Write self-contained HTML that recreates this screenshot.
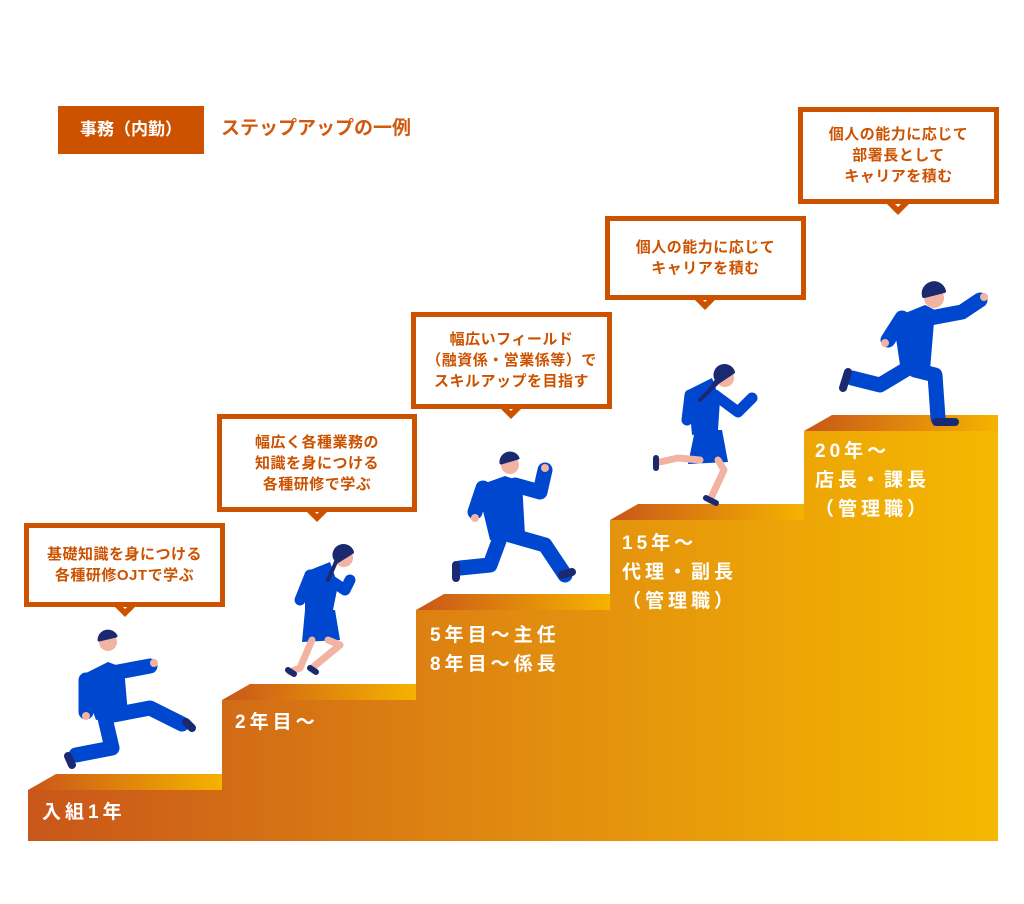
<!DOCTYPE html>
<html><head><meta charset="utf-8"><style>
html,body{margin:0;padding:0;background:#fff}
body{width:1024px;height:904px;position:relative;overflow:hidden;font-family:"Liberation Sans","Noto Sans CJK JP",sans-serif}
.bub{position:absolute;box-sizing:border-box;border:5px solid #cc5200;background:#fff;color:#cc5200;font-weight:bold;font-size:15px;line-height:21px;text-align:center;display:flex;align-items:center;justify-content:center;letter-spacing:0.5px}
.lab{position:absolute;color:#fff;font-weight:bold;font-size:19px;line-height:29px;letter-spacing:4px}
</style></head><body>
<svg width="1024" height="904" style="position:absolute;left:0;top:0">
<defs>
<linearGradient id="g" x1="28" y1="0" x2="998" y2="0" gradientUnits="userSpaceOnUse">
<stop offset="0" stop-color="#c9561a"/><stop offset="0.5" stop-color="#e08a10"/><stop offset="1" stop-color="#f5b800"/></linearGradient>
<linearGradient id="t" x1="0" y1="0" x2="1" y2="0">
<stop offset="0" stop-color="#c9561a"/><stop offset="1" stop-color="#f5b300"/></linearGradient>
<polygon id="tail" points="-15,0 15,0 0,15"/>
</defs>
<polygon fill="url(#g)" points="28,790 222,790 222,700 416,700 416,610 610,610 610,520 804,520 804,431 998,431 998,841 28,841"/>
<polygon fill="url(#t)" points="28,790 56,774 222,774 222,790"/>
<polygon fill="url(#t)" points="222,700 250,684 416,684 416,700"/>
<polygon fill="url(#t)" points="416,610 444,594 610,594 610,610"/>
<polygon fill="url(#t)" points="610,520 638,504 804,504 804,520"/>
<polygon fill="url(#t)" points="804,431 832,415 998,415 998,431"/>
<g stroke-linecap="round" stroke-linejoin="round" fill="none">
<g stroke="#0047d0" stroke-width="15">
<path d="M105,718 L112,748 L76,755"/><path d="M108,716 L150,708 L182,724"/>
<path d="M86,680 L86,712"/><path d="M118,672 L150,666"/></g>
<polygon fill="#0047d0" points="80,676 108,662 124,668 128,714 96,720"/>
<circle cx="108" cy="642" r="9" fill="#f2b3a3"/><path d="M99,640 a9,9 0 0 1 17,-4 z" fill="#1b2a70" stroke="#1b2a70" stroke-width="3"/>
<path d="M68,756 L72,765 M186,722 L192,728" stroke="#1b2a70" stroke-width="8"/>
<circle cx="154" cy="663" r="4" fill="#f2b3a3"/><circle cx="86" cy="716" r="4" fill="#f2b3a3"/>
<g stroke="#0047d0" stroke-width="11"><path d="M310,575 L300,600"/><path d="M330,580 L345,590 L350,580"/></g>
<polygon fill="#0047d0" points="305,572 330,562 338,585 332,615 305,620"/>
<polygon fill="#0047d0" points="305,610 335,610 340,640 302,642"/>
<g stroke="#f2b3a3" stroke-width="7"><path d="M312,640 L300,668 L290,672"/><path d="M328,640 L340,645 L312,668"/></g>
<circle cx="344" cy="558" r="9" fill="#f2b3a3"/><path d="M335,558 a9,9 0 0 1 17,-6 L336,562 L328,580" fill="#1b2a70" stroke="#1b2a70" stroke-width="4"/>
<path d="M288,670 L294,674 M310,668 L316,672" stroke="#1b2a70" stroke-width="6"/>
<g stroke="#0047d0" stroke-width="15">
<path d="M500,538 L490,565 L460,568"/><path d="M510,535 L545,545 L565,575"/>
<path d="M483,488 L475,512"/><path d="M515,485 L540,492 L545,470"/></g>
<polygon fill="#0047d0" points="477,486 505,476 522,482 525,535 490,540"/>
<circle cx="510" cy="465" r="9" fill="#f2b3a3"/><path d="M501,463 a9,9 0 0 1 17,-5 z" fill="#1b2a70" stroke="#1b2a70" stroke-width="3"/>
<path d="M456,565 L456,578 M562,575 L572,572" stroke="#1b2a70" stroke-width="8"/>
<circle cx="545" cy="468" r="4" fill="#f2b3a3"/><circle cx="475" cy="518" r="4" fill="#f2b3a3"/>
<g stroke="#0047d0" stroke-width="11"><path d="M690,395 L687,420"/><path d="M715,395 L738,412 L752,398"/></g>
<polygon fill="#0047d0" points="688,390 712,378 720,400 718,430 692,435"/>
<polygon fill="#0047d0" points="695,430 722,430 728,462 688,464"/>
<g stroke="#f2b3a3" stroke-width="7"><path d="M700,460 L678,458 L660,462"/><path d="M718,460 L724,470 L710,500"/></g>
<circle cx="725" cy="378" r="9" fill="#f2b3a3"/><path d="M716,378 a9,9 0 0 1 17,-6 L718,382 L700,400" fill="#1b2a70" stroke="#1b2a70" stroke-width="4"/>
<path d="M656,458 L656,468 M706,498 L716,503" stroke="#1b2a70" stroke-width="6"/>
<g stroke="#0047d0" stroke-width="15">
<path d="M905,370 L880,385 L852,378"/><path d="M915,370 L935,375 L938,418"/>
<path d="M902,318 L888,340"/><path d="M930,318 L962,312 L980,300"/></g>
<polygon fill="#0047d0" points="893,318 925,305 935,310 930,370 900,365"/>
<circle cx="934" cy="298" r="10" fill="#f2b3a3"/><path d="M924,296 a10,10 0 0 1 20,-5 z" fill="#1b2a70" stroke="#1b2a70" stroke-width="4"/>
<path d="M848,372 L843,388 M936,422 L955,422" stroke="#1b2a70" stroke-width="8"/>
<circle cx="984" cy="297" r="4" fill="#f2b3a3"/><circle cx="885" cy="343" r="4" fill="#f2b3a3"/>
</g>
<g fill="#cc5200">
<use href="#tail" x="125" y="602"/><use href="#tail" x="317" y="507"/><use href="#tail" x="511" y="404"/><use href="#tail" x="705" y="295"/><use href="#tail" x="898" y="200"/>
</g>
<g fill="#fff">
<polygon points="116,600 134,600 125,609"/><polygon points="308,505 326,505 317,514"/><polygon points="502,402 520,402 511,411"/><polygon points="696,293 714,293 705,302"/><polygon points="889,198 907,198 898,207"/>
</g>
</svg>
<div style="position:absolute;left:58px;top:106px;width:146px;height:48px;background:#cc5200;color:#fff;font-weight:bold;font-size:17px;line-height:48px;text-align:center">事務（内勤）</div>
<div style="position:absolute;left:221px;top:115px;color:#d05a10;font-weight:bold;font-size:19px;line-height:28px">ステップアップの一例</div>
<div class="bub" style="left:24px;top:523px;width:201px;height:84px">基礎知識を身につける<br>各種研修OJTで学ぶ</div>
<div class="bub" style="left:217px;top:414px;width:200px;height:98px">幅広く各種業務の<br>知識を身につける<br>各種研修で学ぶ</div>
<div class="bub" style="left:411px;top:312px;width:201px;height:97px">幅広いフィールド<br>（融資係・営業係等）で<br>スキルアップを目指す</div>
<div class="bub" style="left:605px;top:216px;width:201px;height:84px">個人の能力に応じて<br>キャリアを積む</div>
<div class="bub" style="left:798px;top:107px;width:201px;height:97px">個人の能力に応じて<br>部署長として<br>キャリアを積む</div>
<div class="lab" style="left:42px;top:798px">入組1年</div>
<div class="lab" style="left:235px;top:708px">2年目〜</div>
<div class="lab" style="left:430px;top:621px">5年目〜主任<br>8年目〜係長</div>
<div class="lab" style="left:622px;top:529px">15年〜<br>代理・副長<br>（管理職）</div>
<div class="lab" style="left:815px;top:437px">20年〜<br>店長・課長<br>（管理職）</div>
</body></html>
